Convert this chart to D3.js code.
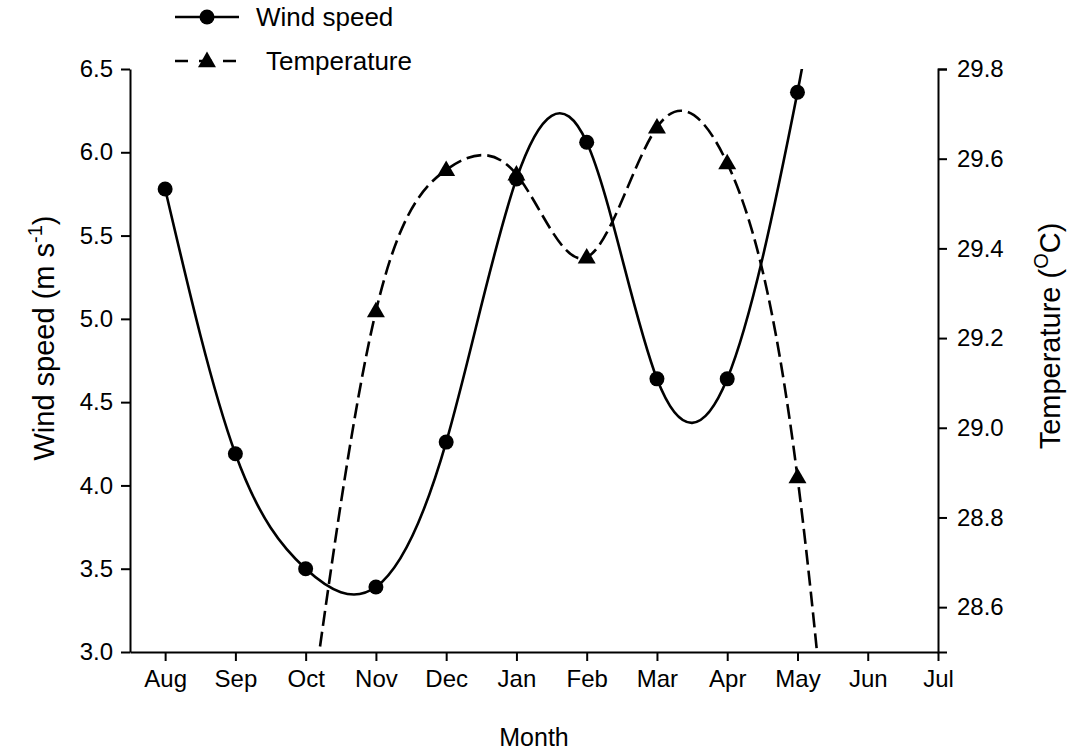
<!DOCTYPE html>
<html>
<head>
<meta charset="utf-8">
<script src="https://cdn.jsdelivr.net/npm/d3@7"></script>
<style>
  body { margin: 0; background: #fff; }
  text { font-family: "Liberation Sans", Arial, sans-serif; fill: #000; }
</style>
</head>
<body>
<div id="chart"></div>
<script>
const months = ["Aug", "Sep", "Oct", "Nov", "Dec", "Jan", "Feb", "Mar", "Apr", "May", "Jun", "Jul"];

// wind speed (m s-1); the Jun value lies above the axis and is clipped
const windMonths = ["Aug", "Sep", "Oct", "Nov", "Dec", "Jan", "Feb", "Mar", "Apr", "May", "Jun"];
const windSpeed = [5.78, 4.19, 3.50, 3.39, 4.26, 5.84, 6.06, 4.64, 4.64, 6.36, 8.6];

// temperature (oC); Oct and Jun fall below 28.5 and are clipped
const tempMonths = ["Oct", "Nov", "Dec", "Jan", "Feb", "Mar", "Apr", "May", "Jun"];
const temperature = [28.28, 29.26, 29.575, 29.565, 29.38, 29.67, 29.59, 28.89, 27.2];

const windTicks = [3.0, 3.5, 4.0, 4.5, 5.0, 5.5, 6.0, 6.5];
const tempTicks = [28.6, 28.8, 29.0, 29.2, 29.4, 29.6, 29.8];

const width = 1085;
const height = 754;
const margin = { top: 69, right: 147, bottom: 102, left: 130 };

const svg = d3.select("#chart")
  .append("svg")
  .attr("width", width)
  .attr("height", height);

const x = d3.scaleLinear()
  .domain([-0.5, 11])
  .range([margin.left, width - margin.right]);

const yWind = d3.scaleLinear()
  .domain([3.0, 6.5])
  .range([height - margin.bottom, margin.top]);

const yTemp = d3.scaleLinear()
  .domain([28.5, 29.8])
  .range([height - margin.bottom, margin.top]);

const monthIndex = m => months.indexOf(m);

svg.append("clipPath")
  .attr("id", "plot-clip")
  .append("rect")
  .attr("x", margin.left)
  .attr("y", margin.top)
  .attr("width", width - margin.left - margin.right)
  .attr("height", height - margin.top - margin.bottom);

const tickFont = "24px";

const styleAxis = g => {
  g.selectAll(".domain").attr("stroke", "#000").attr("stroke-width", 2);
  g.selectAll(".tick line").attr("stroke", "#000").attr("stroke-width", 2);
  g.selectAll(".tick text")
    .attr("font-size", tickFont)
    .attr("font-family", "Liberation Sans, Arial, sans-serif")
    .attr("fill", "#000");
};

// bottom axis
svg.append("g")
  .attr("transform", `translate(0,${height - margin.bottom})`)
  .call(d3.axisBottom(x)
    .tickValues(d3.range(months.length))
    .tickFormat(i => months[i])
    .tickSize(9)
    .tickSizeOuter(0)
    .tickPadding(9))
  .call(styleAxis);

// left axis
svg.append("g")
  .attr("transform", `translate(${margin.left},0)`)
  .call(d3.axisLeft(yWind)
    .tickValues(windTicks)
    .tickFormat(d3.format(".1f"))
    .tickSize(9)
    .tickSizeOuter(0)
    .tickPadding(8))
  .call(styleAxis);

// right axis
svg.append("g")
  .attr("transform", `translate(${width - margin.right},0)`)
  .call(d3.axisRight(yTemp)
    .tickValues(tempTicks)
    .tickFormat(d3.format(".1f"))
    .tickSize(9)
    .tickSizeOuter(9)
    .tickPadding(10))
  .call(styleAxis);

// series
const windData = windMonths.map((m, i) => ({ i: monthIndex(m), v: windSpeed[i] }));
const tempData = tempMonths.map((m, i) => ({ i: monthIndex(m), v: temperature[i] }));

const plot = svg.append("g").attr("clip-path", "url(#plot-clip)");

const windLine = d3.line()
  .x(d => x(d.i))
  .y(d => yWind(d.v))
  .curve(d3.curveNatural);

const tempLine = d3.line()
  .x(d => x(d.i))
  .y(d => yTemp(d.v))
  .curve(d3.curveNatural);

plot.append("path")
  .datum(windData)
  .attr("fill", "none")
  .attr("stroke", "#000")
  .attr("stroke-width", 2.6)
  .attr("d", windLine);

plot.append("path")
  .datum(tempData)
  .attr("fill", "none")
  .attr("stroke", "#000")
  .attr("stroke-width", 2.6)
  .attr("stroke-dasharray", "15,6")
  .attr("d", tempLine);

const triangle = d3.symbol().type(d3.symbolTriangle).size(140);

plot.selectAll(".wind-dot")
  .data(windData)
  .join("circle")
  .attr("class", "wind-dot")
  .attr("cx", d => x(d.i))
  .attr("cy", d => yWind(d.v))
  .attr("r", 7.5)
  .attr("fill", "#000");

plot.selectAll(".temp-tri")
  .data(tempData)
  .join("path")
  .attr("class", "temp-tri")
  .attr("d", triangle)
  .attr("transform", d => `translate(${x(d.i)},${yTemp(d.v) + 1})`)
  .attr("fill", "#000");

// axis titles
svg.append("text")
  .attr("x", (margin.left + width - margin.right) / 2)
  .attr("y", 746)
  .attr("text-anchor", "middle")
  .attr("font-size", "25px")
  .text("Month");

const leftTitle = svg.append("text")
  .attr("transform", "translate(54,338) rotate(-90)")
  .attr("text-anchor", "middle")
  .attr("font-size", "29px");
leftTitle.append("tspan").text("Wind speed (m s");
leftTitle.append("tspan").attr("dy", -12).attr("font-size", "20px").text("-1");
leftTitle.append("tspan").attr("dy", 12).text(")");

const rightTitle = svg.append("text")
  .attr("transform", "translate(1060,336) rotate(-90)")
  .attr("text-anchor", "middle")
  .attr("font-size", "29px");
rightTitle.append("tspan").text("Temperature (");
rightTitle.append("tspan").attr("dy", -12).attr("font-size", "20px").text("O");
rightTitle.append("tspan").attr("dy", 12).text("C)");

// legend
const legend = svg.append("g");
const legendRows = [
  { label: "Wind speed", y: 17, dash: null, marker: "circle", textX: 256 },
  { label: "Temperature", y: 61, dash: "13,11", marker: "triangle", textX: 266 }
];

legendRows.forEach(r => {
  legend.append("line")
    .attr("x1", 175).attr("x2", 239)
    .attr("y1", r.y).attr("y2", r.y)
    .attr("stroke", "#000")
    .attr("stroke-width", 2.6)
    .attr("stroke-dasharray", r.dash);
  if (r.marker === "circle") {
    legend.append("circle")
      .attr("cx", 207).attr("cy", r.y).attr("r", 7.5).attr("fill", "#000");
  } else {
    legend.append("path")
      .attr("d", triangle)
      .attr("transform", `translate(207,${r.y + 1})`)
      .attr("fill", "#000");
  }
  legend.append("text")
    .attr("x", r.textX)
    .attr("y", r.y + 9)
    .attr("font-size", "26px")
    .text(r.label);
});
</script>
</body>
</html>
